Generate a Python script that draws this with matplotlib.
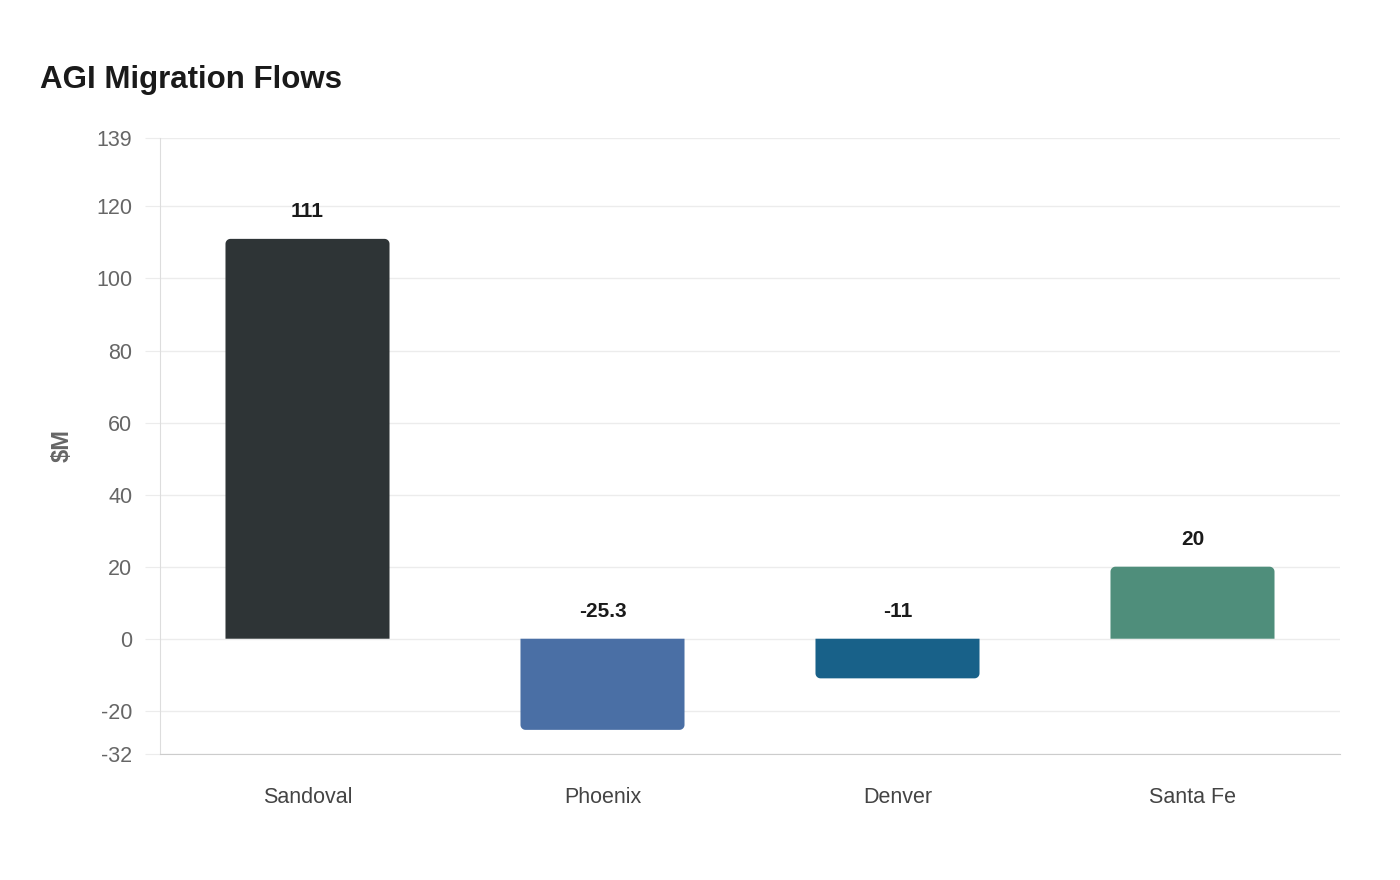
import matplotlib
matplotlib.use("Agg")
import numpy as np
import matplotlib.pyplot as plt
from matplotlib.patches import PathPatch
from matplotlib.path import Path

plt.rcParams['font.family'] = ['Liberation Sans', 'DejaVu Sans']

# data
places = ["Sandoval", "Phoenix", "Denver", "Santa Fe"]
agi = [111, -25.3, -11, 20]
labels = ["111", "-25.3", "-11", "20"]
colors = ["#2e3436", "#4a6fa5", "#186189", "#4f8e7b"]
yticks = [-32, -20, 0, 20, 40, 60, 80, 100, 120, 139]

fig = plt.figure(figsize=(14, 8.8), dpi=100)
ax = fig.add_axes([160 / 1400, 126 / 880, 1180 / 1400, 616 / 880])

bars = ax.bar(range(len(places)), agi, width=0.556, color=colors)
ax.set_xlim(-0.5, len(places) - 0.5)
ax.set_ylim(yticks[0], yticks[-1])


def rounded_bar(x, w, h, rx, ry):
    # rectangle from 0 to h, outer end corners rounded
    s = 1 if h >= 0 else -1
    cy = h - s * ry
    pts = [(x, 0)]
    for a in np.linspace(np.pi, np.pi / 2, 10):
        pts.append((x + rx + rx * np.cos(a), cy + s * ry * np.sin(a)))
    for a in np.linspace(np.pi / 2, 0, 10):
        pts.append((x + w - rx + rx * np.cos(a), cy + s * ry * np.sin(a)))
    pts.append((x + w, 0))
    pts.append((x, 0))
    return Path(pts, closed=True)


rx = 5 / 295.0
ry = 5 / 3.6
for rect, c in zip(bars, colors):
    x, w, h = rect.get_x(), rect.get_width(), rect.get_height()
    rect.set_visible(False)
    ax.add_patch(PathPatch(rounded_bar(x, w, h, rx, ry), facecolor=c,
                           edgecolor="none", zorder=3))

for i, (v, t) in enumerate(zip(agi, labels)):
    ax.annotate(t, (i, max(v, 0)), xytext=(0, 19.5), textcoords="offset points",
                ha="center", va="center", fontsize=15, fontweight="bold", color="#1a1a1a")

ax.set_yticks(yticks)
ax.set_yticklabels([str(t) for t in yticks])
ax.set_xticks(range(len(places)))
ax.set_xticklabels(places)
ax.grid(axis="y", color="#ececec", linewidth=1)
ax.set_axisbelow(True)
ax.tick_params(axis="y", length=11, color="#ececec", pad=9, labelsize=15.5, labelcolor="#666666")
ax.tick_params(axis="x", length=0, pad=24, labelsize=15.5, labelcolor="#444444")
for s in ["top", "right"]:
    ax.spines[s].set_visible(False)
ax.spines["left"].set_color("#dddddd")
ax.spines["bottom"].set_color("#cccccc")

ax.set_ylabel("$M", fontsize=17, fontweight="bold", color="#666666")
ax.yaxis.set_label_coords(-(160 - 62) / 1180, 0.5)
ax.yaxis.label.set_va("center")

fig.text(40 / 1400, 1 - 80 / 880, "AGI Migration Flows", fontsize=22.5, fontweight="bold",
         color="#1a1a1a", ha="left", va="center")

fig.savefig("out.png", dpi=100, facecolor="white")
